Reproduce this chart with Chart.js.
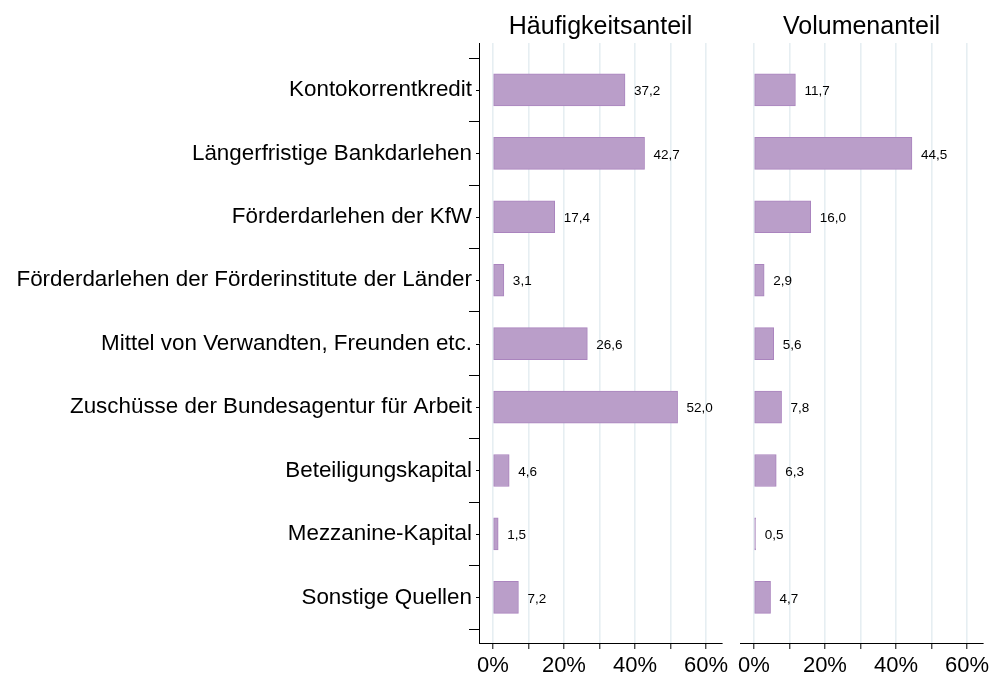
<!DOCTYPE html>
<html>
<head>
<meta charset="utf-8">
<script src="https://cdn.jsdelivr.net/npm/chart.js@4/dist/chart.umd.min.js"></script>
<style>
html,body{margin:0;padding:0;background:#fff;}
#wrap{position:relative;width:991px;height:680px;overflow:hidden;}
#c1{position:absolute;left:0;top:0;}
#c2{position:absolute;left:730px;top:0;}
</style>
</head>
<body>
<div id="wrap">
<canvas id="c1" width="730" height="680"></canvas>
<canvas id="c2" width="261" height="680"></canvas>
</div>
<script>
const categories = [
  'Kontokorrentkredit',
  'Längerfristige Bankdarlehen',
  'Förderdarlehen der KfW',
  'Förderdarlehen der Förderinstitute der Länder',
  'Mittel von Verwandten, Freunden etc.',
  'Zuschüsse der Bundesagentur für Arbeit',
  'Beteiligungskapital',
  'Mezzanine-Kapital',
  'Sonstige Quellen'
];
const haeufigkeitsanteil = [37.2, 42.7, 17.4, 3.1, 26.6, 52.0, 4.6, 1.5, 7.2];
const volumenanteil = [11.7, 44.5, 16.0, 2.9, 5.6, 7.8, 6.3, 0.5, 4.7];
const panelTitles = ['Häufigkeitsanteil', 'Volumenanteil'];
const xTickValues = [0, 10, 20, 30, 40, 50, 60];
const xLabelValues = [0, 20, 40, 60];
const yMinorTicks = [-0.5, 0.5, 1.5, 2.5, 3.5, 4.5, 5.5, 6.5, 7.5, 8.5];

const FONT = '"Liberation Sans", Arial, Helvetica, sans-serif';
const BAR_FILL = 'rgb(186,158,201)';
const BAR_EDGE = 'rgb(170,132,190)';
const GRID = 'rgb(230,238,242)';

const valueLabels = {
  id: 'valueLabels',
  afterDatasetsDraw(chart) {
    const ctx = chart.ctx;
    ctx.save();
    ctx.font = '13.5px ' + FONT;
    ctx.fillStyle = '#000';
    ctx.textBaseline = 'middle';
    ctx.textAlign = 'left';
    chart.data.datasets.forEach((ds, i) => {
      chart.getDatasetMeta(i).data.forEach((el, j) => {
        const v = ds.data[j].x;
        ctx.fillText(v.toFixed(1).replace('.', ','), el.x + 9, el.y + 1.5);
      });
    });
    ctx.restore();
  }
};

const yTicksPlugin = {
  id: 'yTicksPlugin',
  afterDraw(chart) {
    const s = chart.scales.y;
    if (!s.options.display) return;
    const ctx = chart.ctx;
    ctx.save();
    ctx.strokeStyle = '#000';
    ctx.lineWidth = 1;
    ctx.beginPath();
    const x = chart.chartArea.left;
    categories.forEach((c, i) => {
      const y = Math.round(s.getPixelForValue(i)) + 0.5;
      ctx.moveTo(x - 3, y);
      ctx.lineTo(x, y);
    });
    ctx.stroke();
    ctx.restore();
  }
};

function makeChart(canvasId, values, title, showY, padLeft) {
  const yTickVals = [];
  yMinorTicks.forEach(v => yTickVals.push(v));
  categories.forEach((c, i) => yTickVals.push(i));
  yTickVals.sort((a, b) => a - b);
  return new Chart(document.getElementById(canvasId), {
    type: 'bar',
    data: {
      datasets: [{
        data: values.map((v, i) => ({ x: v, y: i })),
        backgroundColor: BAR_FILL,
        borderColor: BAR_EDGE,
        borderWidth: 1,
        borderSkipped: false,
        barThickness: 32
      }]
    },
    options: {
      responsive: false,
      animation: false,
      indexAxis: 'y',
      layout: { padding: { left: padLeft, right: 8, top: 0, bottom: 0 } },
      plugins: {
        legend: { display: false },
        tooltip: { enabled: false },
        title: {
          display: true,
          text: title,
          fullSize: false,
          color: '#000',
          font: { family: FONT, size: 25, weight: 'normal', lineHeight: 1.2 },
          padding: { top: 12, bottom: 1 }
        }
      },
      scales: {
        x: {
          type: 'linear',
          position: 'bottom',
          min: -3.9,
          max: 64.5,
          offset: false,
          afterBuildTicks: s => { s.ticks = xTickValues.map(v => ({ value: v })); },
          afterFit: s => { s.height = 37; s.paddingLeft = 0; s.paddingRight = 0; },
          border: { display: true, color: '#000', width: 1 },
          grid: {
            offset: false,
            drawOnChartArea: true,
            color: GRID,
            lineWidth: 1.6,
            tickColor: '#000',
            tickWidth: 1,
            tickLength: 6
          },
          ticks: {
            autoSkip: false,
            maxRotation: 0,
            padding: 4,
            color: '#000',
            font: { family: FONT, size: 22 },
            callback: v => xLabelValues.includes(v) ? v + '%' : ''
          }
        },
        y: {
          type: 'linear',
          display: showY,
          reverse: true,
          offset: false,
          min: -0.74,
          max: 8.72,
          afterBuildTicks: s => { s.ticks = yTickVals.map(v => ({ value: v })); },
          afterFit: s => { if (showY) { s.width = 479; } },
          border: { display: true, color: '#000', width: 1 },
          grid: {
            offset: false,
            drawOnChartArea: false,
            tickLength: 10,
            tickWidth: 1,
            tickColor: ctx => (ctx.tick && Number.isInteger(ctx.tick.value)) ? 'rgba(0,0,0,0)' : '#000'
          },
          ticks: {
            autoSkip: false,
            padding: -3,
            color: '#000',
            font: { family: FONT, size: 22.4 },
            callback: v => Number.isInteger(v) ? categories[v] : ''
          }
        }
      }
    },
    plugins: [valueLabels, yTicksPlugin]
  });
}

makeChart('c1', haeufigkeitsanteil, panelTitles[0], true, 0);
makeChart('c2', volumenanteil, panelTitles[1], false, 10);
</script>
</body>
</html>
